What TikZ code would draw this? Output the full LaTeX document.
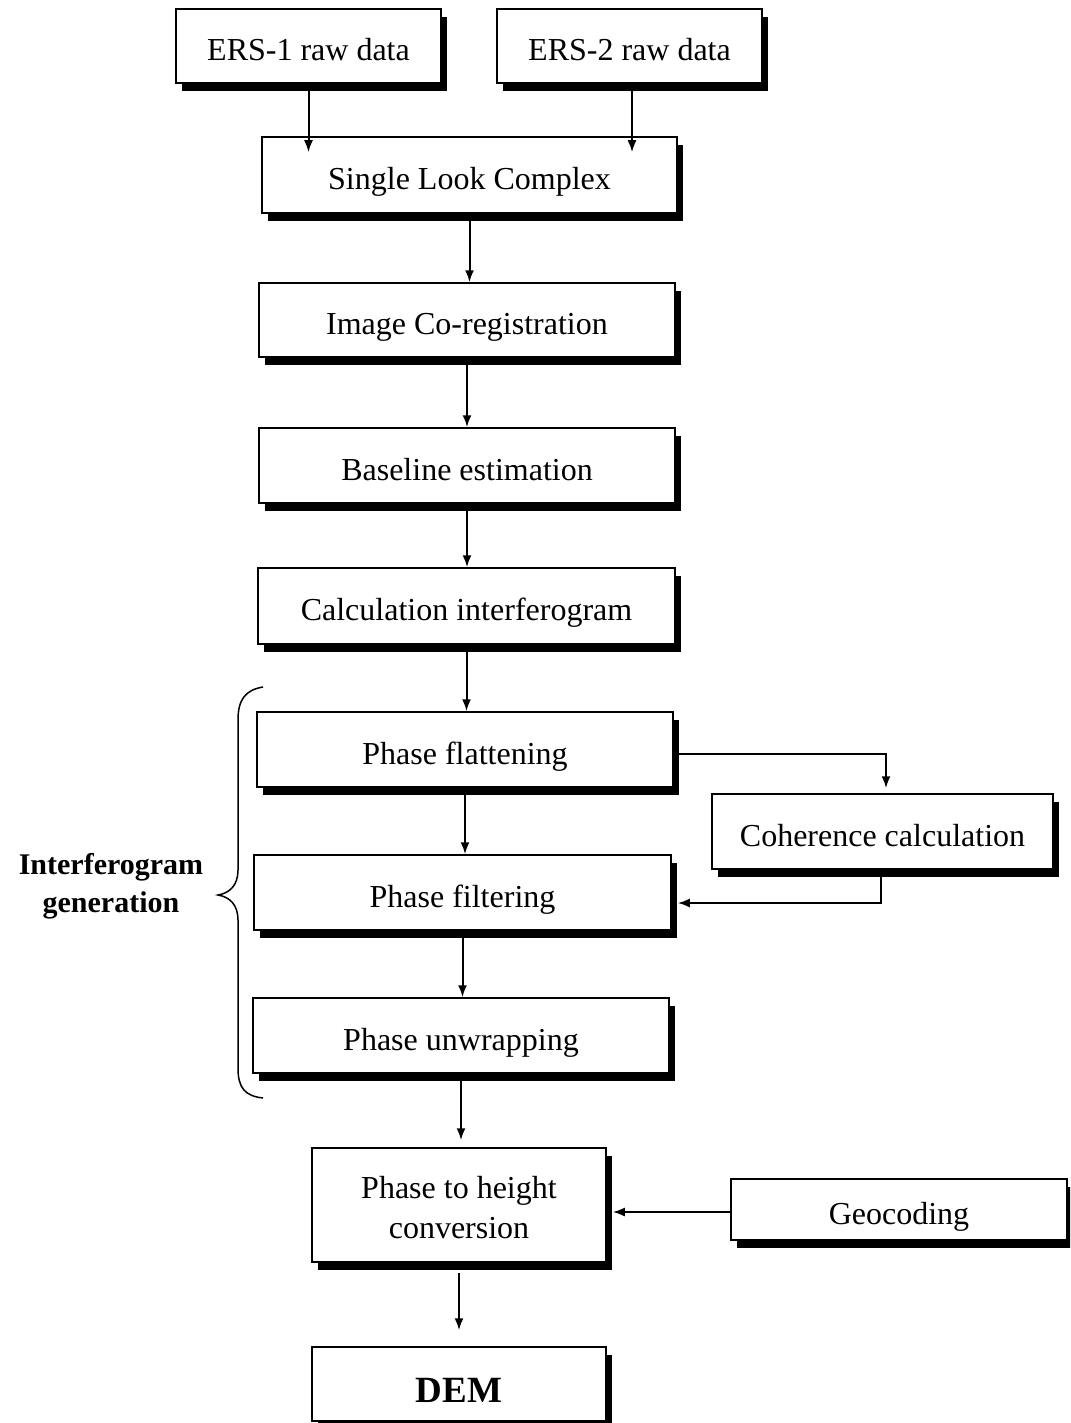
\documentclass[tikz,border=0pt]{standalone}
\usepackage{fontspec}
\setmainfont{Liberation Serif}
\usetikzlibrary{arrows.meta,shadows,calc}

\begin{document}
\begin{tikzpicture}[x=1pt,y=-1pt,
  box/.style={draw, fill=white, line width=1.5pt, inner sep=0pt, align=center,
    font=\fontsize{32}{40}\selectfont,
    drop shadow={shadow xshift=6pt, shadow yshift=-8pt, opacity=1, fill=black}},
  oneline/.style={text height=29pt, text depth=0pt},
  arr/.style={line width=2pt, -{Latex[length=12pt,width=9pt]}}]
\useasboundingbox (0,0) rectangle (1070,1423);
\clip (0,0) rectangle (1070,1423);

% processing chain
\node[box, oneline, minimum width=265pt, minimum height=74pt] (ers1) at (308.5,46) {ERS-1 raw data};
\node[box, oneline, minimum width=265pt, minimum height=74pt] (ers2) at (629.5,46) {ERS-2 raw data};
\node[box, oneline, minimum width=415pt, minimum height=76pt] (slc) at (469.5,175) {Single Look Complex};
\node[box, oneline, minimum width=416pt, minimum height=74pt] (coreg) at (467,320) {Image Co-registration};
\node[box, oneline, minimum width=416pt, minimum height=75pt] (base) at (467,465.5) {Baseline estimation};
\node[box, oneline, minimum width=417pt, minimum height=76pt] (calc) at (466.5,606) {Calculation interferogram};
\node[box, oneline, minimum width=416pt, minimum height=75pt] (flat) at (465,749.5) {Phase flattening};
\node[box, oneline, minimum width=417pt, minimum height=75pt] (filt) at (462.5,892.5) {Phase filtering};
\node[box, oneline, minimum width=416pt, minimum height=75pt] (unwr) at (461,1035.5) {Phase unwrapping};
\node[box, oneline, minimum width=341pt, minimum height=75pt] (coh) at (882.5,831.5) {Coherence calculation};
\node[box, minimum width=294pt, minimum height=114pt] (pth) at (459,1205)
  {\raisebox{-12pt}[0pt][0pt]{\begin{tabular}{@{}c@{}}Phase to height\\conversion\end{tabular}}};
\node[box, oneline, minimum width=336pt, minimum height=61pt] (geo) at (899,1209.5) {Geocoding};
\node[box, text height=37pt, text depth=0pt, minimum width=294pt, minimum height=74pt, font=\bfseries\fontsize{37}{44}\selectfont] (dem) at (459,1384) {DEM};

% connectors
\draw[arr] (ers1.south) -- ($(ers1.south |- slc.north)+(0,16)$);
\draw[arr] ($(ers2.south)+(2.5,0)$) -- ($(ers2.south |- slc.north)+(2.5,16)$);
\draw[arr] (slc.south) -- (slc.south |- coreg.north);
\draw[arr] (coreg.south) -- (coreg.south |- base.north);
\draw[arr] (base.south) -- (base.south |- calc.north);
\draw[arr] (calc.south) -- (calc.south |- flat.north);
\draw[arr] (flat.south) -- (flat.south |- filt.north);
\draw[arr] (filt.south) -- (filt.south |- unwr.north);
\draw[arr] (unwr.south) -- ($(unwr.south |- pth.north)+(0,-7)$);
\draw[arr] ($(pth.south)+(0,10)$) -- ($(pth.south |- dem.north)+(0,-16)$);
\draw[arr] ($(flat.east)+(0,4.5)$) -| ($(coh.north)+(3.5,-5)$);
\draw[arr] ($(coh.south)+(-1.5,0)$) |- ($(filt.east)+(6,10.5)$);
\draw[arr] ($(geo.west)+(0,2.5)$) -- ($(pth.east)+(6,7)$);

% brace grouping the interferogram steps
\draw[line width=1.5pt] (263,687) .. controls (245,690) and (238,700) .. (238,720)
  -- (238,870) .. controls (238,885) and (230,893) .. (218,895)
  .. controls (230,897) and (238,905) .. (238,920)
  -- (238,1068) .. controls (238,1088) and (245,1096) .. (263,1098);
\node[font=\bfseries\fontsize{30}{38}\selectfont, align=center] (grp) at (111,886) {Interferogram\\generation};
\end{tikzpicture}
\end{document}
